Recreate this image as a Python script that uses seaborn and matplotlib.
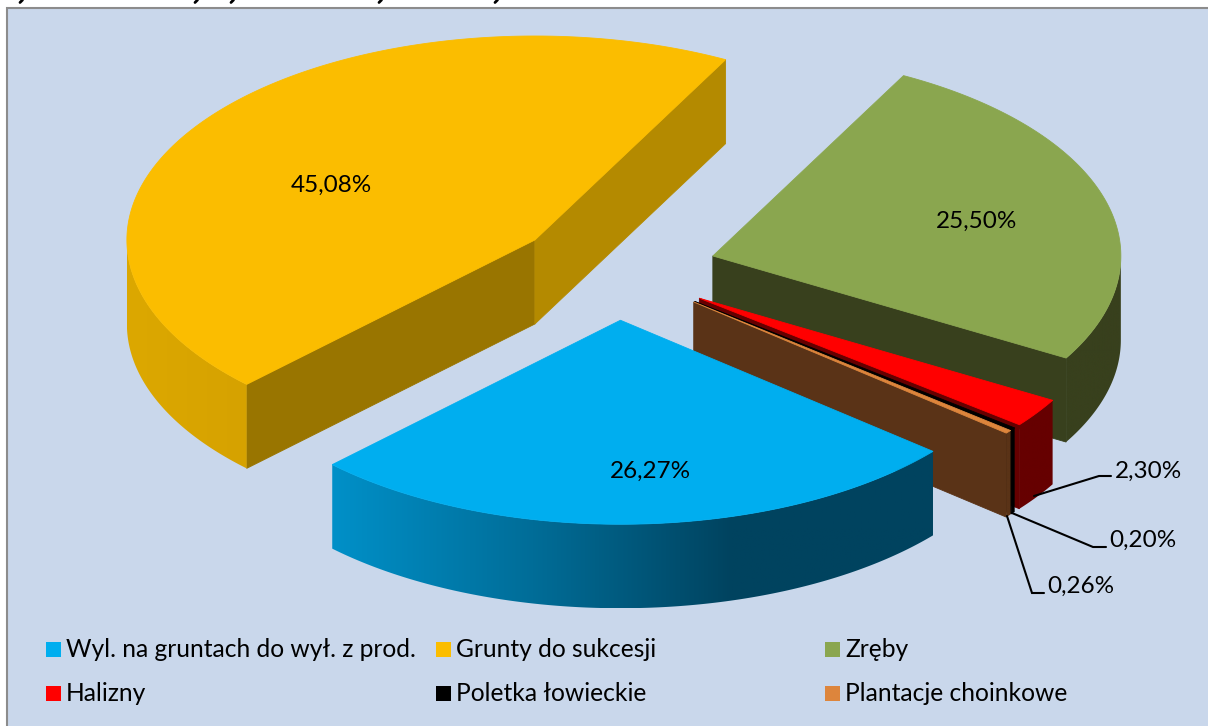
import numpy as np
import matplotlib
matplotlib.use("Agg")
import matplotlib.pyplot as plt
from matplotlib.patches import Polygon, Rectangle
import seaborn as sns

# Data
categories = ["Wyl. na gruntach do wył. z prod.", "Grunty do sukcesji", "Zręby",
              "Halizny", "Poletka łowieckie", "Plantacje choinkowe"]
shares = [26.27, 45.08, 25.50, 2.30, 0.20, 0.26]
share_labels = ["26,27%", "45,08%", "25,50%", "2,30%", "0,20%", "0,26%"]

# Colours
top_colors = ["#00AEEF", "#FBBD00", "#8AA64F", "#FF0000", "#000000", "#DD853C"]
rim_colors = [["#0090C8", "#006D98", "#00435F", "#00435F"], ["#DCA800", "#D6A200"],
              ["#38401D", "#38401D"], ["#660000", "#660000"],
              ["#000000", "#000000"], ["#5A3317", "#5A3317"]]
start_face_colors = [None, "#997500", None, None, None, None]
end_face_colors = [None, "#B48A00", "#38401D", "#660000", "#000000", "#5A3317"]
BG = "#C9D7EB"

# Pie projection, in pixels
CX, CY = 616, 269.9
RX, RY = 408, 204
DEPTH = 84
EXPLODE = 0.247
FIRST_ANGLE = 40
DRAW_ORDER = [1, 2, 3, 4, 5, 0]

# Label anchors
label_pos = [(650, 471, "center"), (331, 185.5, "center"), (977, 221, "center"),
             (1115, 471, "left"), (1109, 540, "left"), (1047, 586.5, "left")]
leaders = {3: [(1034, 496), (1099, 476), (1111, 476)],
           4: [(1012, 513), (1093, 547), (1106, 547)],
           5: [(1007, 516), (1032, 593), (1044, 593)]}
legend_cols = [46, 436, 825]
legend_rows = [649, 693]
# bottoms of the letters of a title cropped off above the chart
cropped_marks = [21, 196, 232, 380, 496]


def ellipse(tip, angles):
    a = np.radians(angles)
    return np.column_stack([tip[0] + RX * np.cos(a), tip[1] + RY * np.sin(a)])


def draw_poly(ax, pts, color, z):
    ax.add_patch(Polygon(pts, closed=True, facecolor=color, edgecolor=color,
                         linewidth=0.6, zorder=z))


def draw_face(ax, tip, angle, color, z):
    outer = ellipse(tip, [angle])[0]
    draw_poly(ax, [tip, outer, (outer[0], outer[1] + DEPTH), (tip[0], tip[1] + DEPTH)], color, z)


def draw_rim(ax, pts, colors, z):
    # left to right gradient clipped to the rim outline
    outline = np.vstack([pts, pts[::-1] + [0, DEPTH]])
    grad = np.array(sns.blend_palette(colors, n_colors=256))[np.newaxis, :, :]
    x0, x1 = outline[:, 0].min(), outline[:, 0].max()
    y0, y1 = outline[:, 1].min(), outline[:, 1].max()
    img = ax.imshow(grad, extent=(x0, x1, y1, y0), aspect="auto", zorder=z)
    patch = Polygon(outline, closed=True, facecolor="none", edgecolor="none",
                    transform=ax.transData)
    ax.add_patch(patch)
    img.set_clip_path(patch)


sns.set_theme(style="white")
plt.rcParams["font.family"] = ["Lato", "DejaVu Sans"]

fig, ax = plt.subplots(figsize=(12.08, 7.26), dpi=100)
ax.set_position([0, 0, 1, 1])
ax.axis("off")

ax.add_patch(Rectangle((7, 7.5), 1300, 800, facecolor=BG, edgecolor="#8C8C8C",
                       linewidth=1.5, zorder=0))
for x in cropped_marks:
    ax.plot([x + 1.5, x - 1], [0, 2.5], color="black", lw=2, zorder=1)

sweeps = np.array(shares) / sum(shares) * 360
starts = FIRST_ANGLE + np.concatenate([[0], np.cumsum(sweeps)[:-1]])

palette = sns.color_palette(top_colors)

for rank, i in enumerate(DRAW_ORDER):
    z = 2 + rank
    a0, a1 = starts[i], starts[i] + sweeps[i]
    mid = np.radians((a0 + a1) / 2)
    tip = (CX + EXPLODE * RX * np.cos(mid), CY + EXPLODE * RY * np.sin(mid))

    if start_face_colors[i]:
        draw_face(ax, tip, a0, start_face_colors[i], z)
    if end_face_colors[i]:
        draw_face(ax, tip, a1, end_face_colors[i], z)

    # outer rim, only where it faces the viewer
    arc = np.linspace(a0, a1, 300)
    arc = arc[np.sin(np.radians(arc)) >= 0]
    if len(arc) > 1:
        draw_rim(ax, ellipse(tip, arc), rim_colors[i], z + 0.1)

    top = np.vstack([[tip], ellipse(tip, np.linspace(a0, a1, 300))])
    draw_poly(ax, top, palette[i], z + 0.2)

for i, (x, y, ha) in enumerate(label_pos):
    ax.text(x, y, share_labels[i], ha=ha, va="center", fontsize=17.5, color="black", zorder=20)

for pts in leaders.values():
    xs, ys = zip(*pts)
    ax.plot(xs, ys, color="black", lw=1.5, solid_joinstyle="miter", zorder=20)

for i, name in enumerate(categories):
    x = legend_cols[i % 3]
    y = legend_rows[i // 3]
    ax.add_patch(Rectangle((x, y - 7.5), 15, 15, facecolor=palette[i], edgecolor="none", zorder=20))
    ax.text(x + 20, y + 0.5, name, ha="left", va="center", fontsize=17.7, color="black", zorder=20)

ax.set_xlim(0, 1208)
ax.set_ylim(726, 0)

fig.savefig("out.png", dpi=100)
plt.close(fig)
